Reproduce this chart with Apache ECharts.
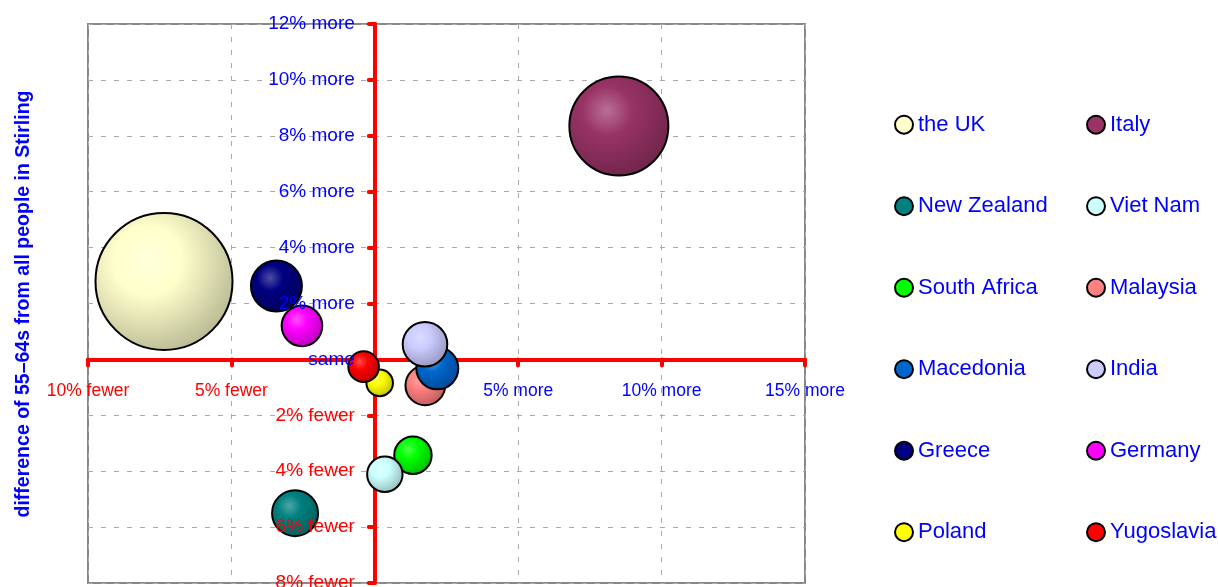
<!DOCTYPE html>
<html>
<head>
<meta charset="utf-8">
<script src="https://cdn.jsdelivr.net/npm/echarts@6/dist/echarts.min.js"></script>
<style>
html,body{margin:0;padding:0;background:#fff;}
#chart{width:1218px;height:587px;}
</style>
</head>
<body>
<div id="chart"></div>
<script>
// ---- data ----
var countries = ['the UK','Italy','New Zealand','Viet Nam','South Africa','Malaysia','Macedonia','India','Greece','Germany','Poland','Yugoslavia'];
// x: difference in % (negative = fewer), y: difference in % (negative = fewer)
var xValues = [-7.35, 8.51, -2.78, 0.35, 1.33, 1.76, 2.18, 1.75, -3.43, -2.54, 0.17, -0.39];
var yValues = [2.79, 8.35, -5.50, -4.11, -3.43, -0.93, -0.32, 0.54, 2.63, 1.20, -0.84, -0.26];
var bubbleSize = [4830, 2550, 576, 350, 388, 433, 484, 543, 702, 454, 204, 266];
var colors = ['#FFFFCC','#993366','#008080','#CCFFFF','#00FF00','#FF8080','#0066CC','#CCCCFF','#000080','#FF00FF','#FFFF00','#FF0000'];
// drawing order (later on top)
var drawOrder = ['the UK','Italy','New Zealand','South Africa','Viet Nam','Malaysia','Macedonia','India','Greece','Germany','Poland','Yugoslavia'];
var legendLeftCol = ['the UK','New Zealand','South Africa','Macedonia','Greece','Poland'];
var legendRightCol = ['Italy','Viet Nam','Malaysia','India','Germany','Yugoslavia'];
var xTicks = {'-10':'10% fewer','-5':'5% fewer','0':'','5':'5% more','10':'10% more','15':'15% more'};
var yTicks = {'12':'12% more','10':'10% more','8':'8% more','6':'6% more','4':'4% more','2':'2% more','0':'same','-2':'2% fewer','-4':'4% fewer','-6':'6% fewer','-8':'8% fewer'};
var yTitle = 'difference of 55\u201364s from all people in Stirling';
var xMin = -10, xMax = 15, xStep = 5, yMin = -8, yMax = 12, yStep = 2;

// ---- helpers ----
function hexToRgb(h){h=h.replace('#','');return [parseInt(h.substr(0,2),16),parseInt(h.substr(2,2),16),parseInt(h.substr(4,2),16)];}
function mix(h, target, t){var c=hexToRgb(h);return 'rgb('+c.map(function(v,i){return Math.round(v+(target[i]-v)*t);}).join(',')+')';}
function shade(h){
  return {type:'radial', x:0.38, y:0.35, r:0.7, colorStops:[
    {offset:0, color:mix(h,[255,255,255],0.3)},
    {offset:0.35, color:h},
    {offset:1, color:mix(h,[0,0,0],0.28)}
  ]};
}

var FONT = '"Liberation Sans", Arial, sans-serif';
var BLUE = '#0000FF', RED = '#FF0000';

// grid geometry (layout)
var G = {left:88, right:413, top:24, bottom:4};
var W = 1218, H = 587;
var plotW = W - G.left - G.right, plotH = H - G.top - G.bottom;
// move the axes so they cross at zero
var xAxisOffset = -plotH * (0 - yMin) / (yMax - yMin);
var yAxisOffset = -plotW * (0 - xMin) / (xMax - xMin);

var series = drawOrder.map(function(name){
  var i = countries.indexOf(name);
  return {
    name: name,
    type: 'scatter',
    xAxisIndex: 0, yAxisIndex: 0,
    data: [[xValues[i], yValues[i], bubbleSize[i]]],
    symbolSize: function(v){ return 2*Math.sqrt(v[2]) - 2; },
    itemStyle: {color: shade(colors[i]), borderColor:'#000', borderWidth:2, opacity:1},
    emphasis: {disabled:true},
    z: 5
  };
});

function legendData(list){
  return list.map(function(n){
    var i = countries.indexOf(n);
    return {name:n, icon:'circle', itemStyle:{color:colors[i], borderColor:'#000', borderWidth:2}};
  });
}
var legendCommon = {
  orient:'vertical', top:112.7, padding:0, itemWidth:18, itemHeight:18, itemGap:57.5,
  textStyle:{color:BLUE, fontSize:22, fontFamily:FONT, lineHeight:24},
  selectedMode:false
};

var xLabel = {margin:23, fontSize:17.5, fontFamily:FONT, showMinLabel:true, showMaxLabel:true, hideOverlap:false,
  formatter:function(v){return xTicks[String(v)] !== undefined ? xTicks[String(v)] : '';},
  color:function(v){return Number(v) < 0 ? RED : BLUE;}};
var yLabel = {margin:20, fontSize:19, fontFamily:FONT, showMinLabel:true, showMaxLabel:true, hideOverlap:false,
  padding:[4,0,0,0],
  formatter:function(v){return yTicks[String(v)] !== undefined ? yTicks[String(v)] : '';},
  color:function(v){return Number(v) < 0 ? RED : BLUE;}};

var option = {
  backgroundColor:'#fff',
  animation:false,
  grid:{left:G.left, right:G.right, top:G.top, bottom:G.bottom, containLabel:false, outerBoundsMode:'none',
        show:true, borderColor:'#888', borderWidth:2},
  xAxis:[{
    type:'value', min:xMin, max:xMax, interval:xStep, position:'bottom', offset:xAxisOffset, z:1,
    axisLine:{onZero:false, lineStyle:{color:RED, width:4}},
    axisTick:{show:true, length:6, lineStyle:{color:RED, width:4, cap:'round'}},
    axisLabel:{show:false},
    splitLine:{show:true, lineStyle:{color:'#aaa', type:[5,8], width:1}}
  },{
    type:'value', min:xMin, max:xMax, interval:xStep, position:'bottom', offset:xAxisOffset, z:10,
    axisLine:{show:false, onZero:false}, axisTick:{show:false}, splitLine:{show:false},
    axisLabel:xLabel
  }],
  yAxis:[{
    type:'value', min:yMin, max:yMax, interval:yStep, position:'left', offset:yAxisOffset, z:1,
    axisLine:{onZero:false, lineStyle:{color:RED, width:4}},
    axisTick:{show:true, length:6, lineStyle:{color:RED, width:4, cap:'round'}},
    axisLabel:{show:false},
    splitLine:{show:true, lineStyle:{color:'#aaa', type:[5,8], width:1}}
  },{
    type:'value', min:yMin, max:yMax, interval:yStep, position:'left', offset:yAxisOffset, z:10,
    axisLine:{show:false, onZero:false}, axisTick:{show:false}, splitLine:{show:false},
    axisLabel:yLabel
  }],
  legend:[
    Object.assign({left:894, data:legendData(legendLeftCol)}, legendCommon),
    Object.assign({left:1086, data:legendData(legendRightCol)}, legendCommon)
  ],
  graphic:[{
    type:'text', x:24, y:304, rotation:Math.PI/2,
    style:{text:yTitle, fill:BLUE, font:'bold 19.5px '+FONT, textAlign:'center', textVerticalAlign:'middle'}
  }],
  series: series
};

var chart = echarts.init(document.getElementById('chart'), null, {renderer:'canvas'});
chart.setOption(option);
</script>
</body>
</html>
